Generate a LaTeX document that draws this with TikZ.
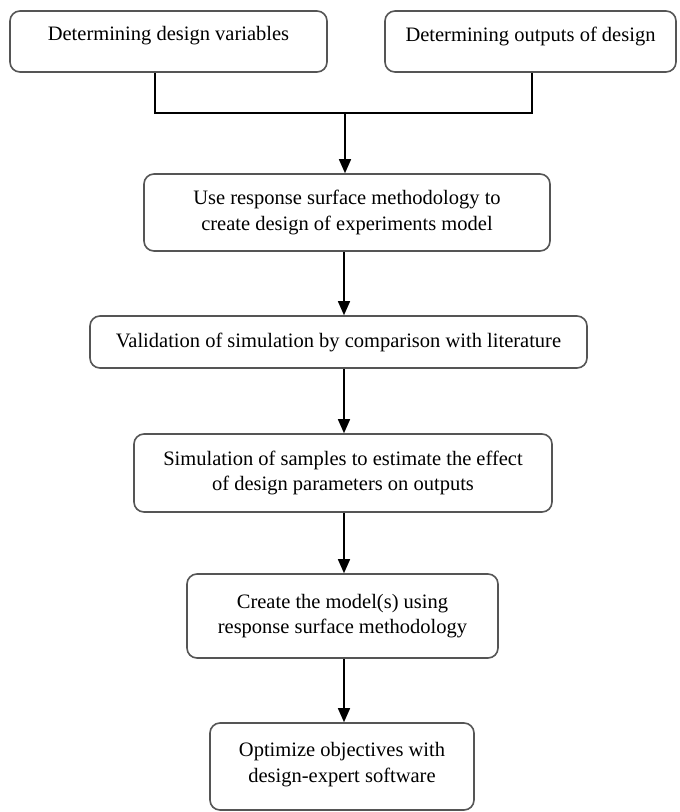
\documentclass[tikz,border=0pt]{standalone}
\usepackage{fontspec}
\setmainfont{Liberation Serif}
\usetikzlibrary{arrows.meta,calc}
\definecolor{boxline}{HTML}{555555}
\tikzset{
  box/.style={draw=boxline, line width=1.6pt, rounded corners=10pt, fill=white, inner sep=0pt},
  txt/.style={font=\fontsize{20.5}{25.5}\selectfont, align=center, inner sep=0pt},
  conn/.style={line width=1.5pt, black},
  arr/.style={conn, -{Triangle[length=14pt,width=12pt]}}
}
\begin{document}
\begin{tikzpicture}[x=1pt,y=-1pt]
\useasboundingbox (0,0) rectangle (680,812);
\node[box, minimum width=317pt, minimum height=61pt] (b1) at (168.5,41.5) {};
\node[txt] (t1) at (168.5,36) {Determining design variables};
\node[box, minimum width=291pt, minimum height=61pt] (b2) at (530.5,41.5) {};
\node[txt] (t2) at (530.5,36) {Determining outputs of design};
\node[box, minimum width=406pt, minimum height=77pt] (b3) at (347,212.5) {};
\node[txt] (t3) at (347,212.5) {Use response surface methodology to\\create design of experiments model};
\node[box, minimum width=497pt, minimum height=52pt] (b4) at (338.5,342) {};
\node[txt] (t4) at (338.5,342) {Validation of simulation by comparison with literature};
\node[box, minimum width=418pt, minimum height=78pt] (b5) at (343,473) {};
\node[txt] (t5) at (343,473) {Simulation of samples to estimate the effect\\of design parameters on outputs};
\node[box, minimum width=311pt, minimum height=84pt] (b6) at (342.5,616) {};
\node[txt] (t6) at (342.5,616) {Create the model(s) using\\response surface methodology};
\node[box, minimum width=264pt, minimum height=87pt] (b7) at (342,766.5) {};
\node[txt] (t7) at (342,764.5) {Optimize objectives with\\design-expert software};
\coordinate (j1) at (155,113);
\coordinate (j2) at (532,113);
\coordinate (jm) at (345,113);
\coordinate (ax) at (344,0);
\draw[conn] (b1.south -| j1) -- (j1) -- (j2) -- (b2.south -| j2);
\draw[arr] (jm) -- (b3.north -| jm);
\draw[arr] (b3.south -| ax) -- (b4.north -| ax);
\draw[arr] (b4.south -| ax) -- (b5.north -| ax);
\draw[arr] (b5.south -| ax) -- (b6.north -| ax);
\draw[arr] (b6.south -| ax) -- (b7.north -| ax);
\end{tikzpicture}
\end{document}
